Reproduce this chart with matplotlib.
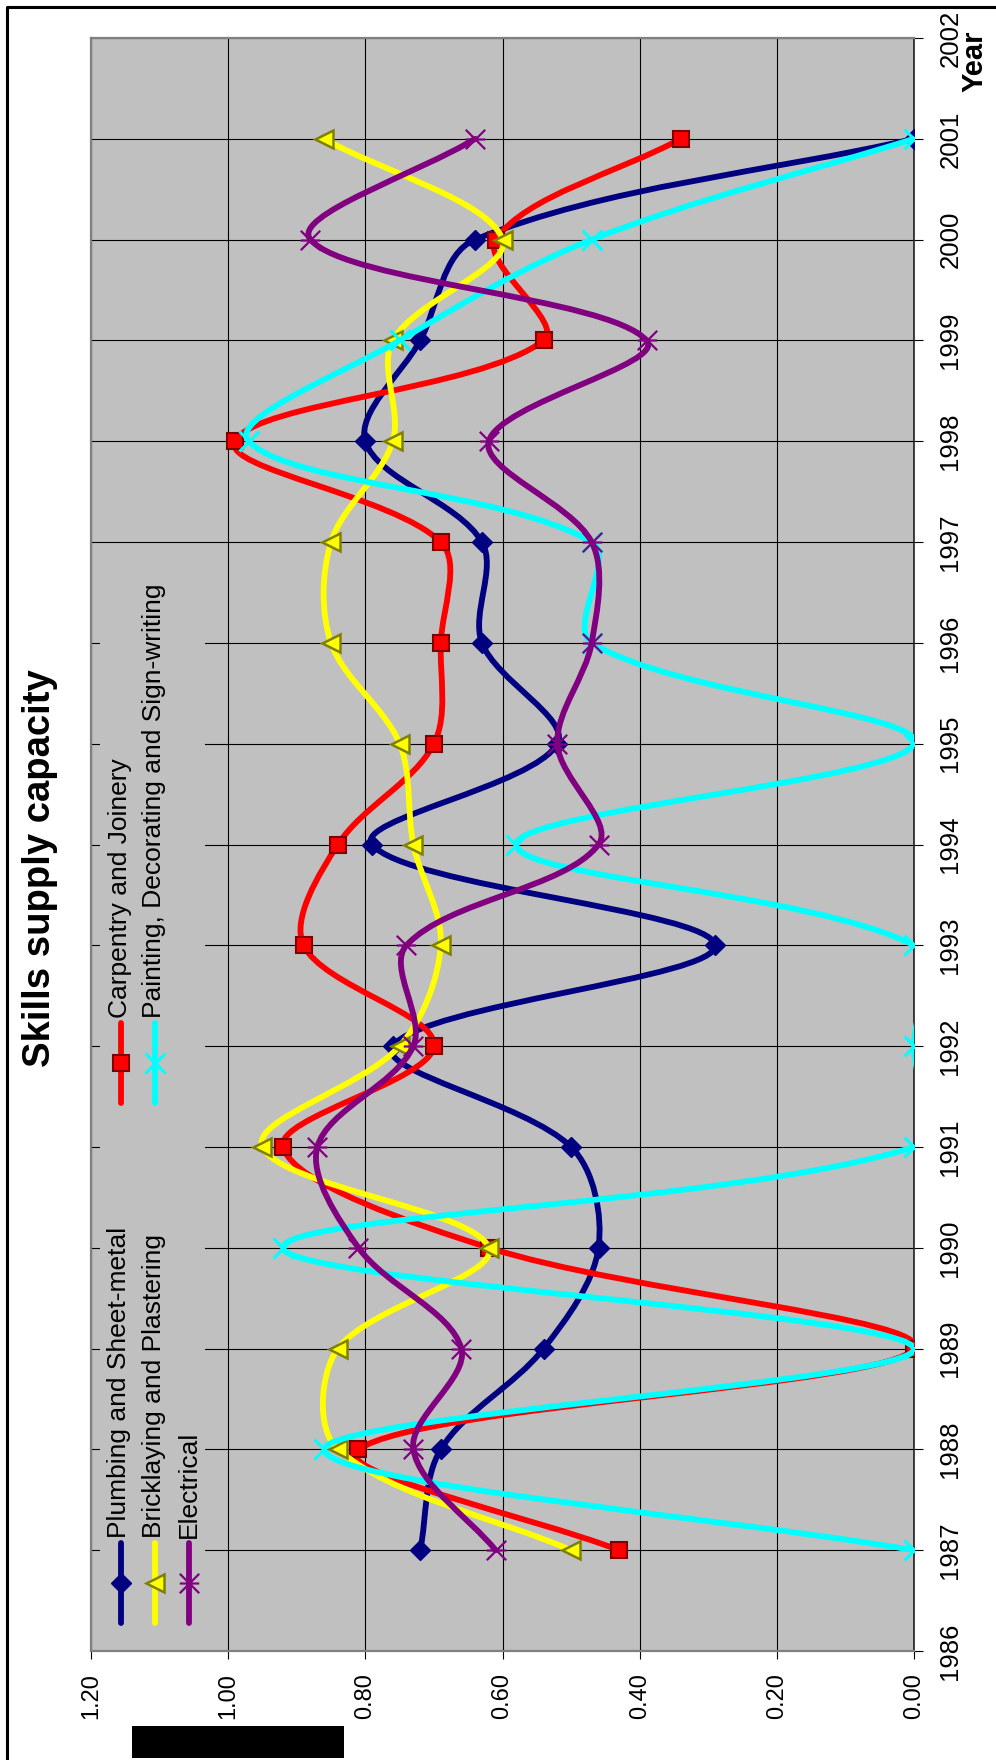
import numpy as np
import matplotlib
matplotlib.use("Agg")
import matplotlib.pyplot as plt
from matplotlib.path import Path
from matplotlib.patches import PathPatch, Rectangle
from matplotlib.lines import Line2D
from matplotlib import font_manager

plt.rcParams['font.family'] = ['Liberation Sans', 'DejaVu Sans']

years = list(range(1987, 2002))
plumbing    = [0.72, 0.69, 0.54, 0.46, 0.50, 0.76, 0.29, 0.79, 0.52, 0.63, 0.63, 0.80, 0.72, 0.64, 0.00]
carpentry   = [0.43, 0.81, 0.00, 0.62, 0.92, 0.70, 0.89, 0.84, 0.70, 0.69, 0.69, 0.99, 0.54, 0.61, 0.34]
bricklaying = [0.50, 0.84, 0.84, 0.62, 0.95, 0.75, 0.69, 0.73, 0.75, 0.85, 0.85, 0.76, 0.76, 0.60, 0.86]
painting    = [0.00, 0.86, 0.00, 0.92, 0.00, 0.00, 0.00, 0.58, 0.00, 0.47, 0.47, 0.97, 0.75, 0.47, 0.00]
electrical  = [0.61, 0.73, 0.66, 0.81, 0.87, 0.73, 0.74, 0.46, 0.52, 0.47, 0.47, 0.62, 0.39, 0.88, 0.64]

names = ["Plumbing and Sheet-metal", "Carpentry and Joinery", "Bricklaying and Plastering",
         "Painting, Decorating and Sign-writing", "Electrical"]
value_ticks = [0.0, 0.2, 0.4, 0.6, 0.8, 1.0, 1.2]
year_ticks = list(range(1986, 2003))

W, H = 996, 1760
def fx(px):
    return px / W
def fy(py):
    return 1 - py / H

LW = 4.2

# asterisk marker: an X with a bar through it
star = Path([(-1, -1), (1, 1), (-1, 1), (1, -1), (-1, 0), (1, 0)],
            [Path.MOVETO, Path.LINETO, Path.MOVETO, Path.LINETO, Path.MOVETO, Path.LINETO])

# (values, line colour, marker, size, face, edge, edge width)
series = [
    (plumbing,    '#000080', 'D',  10, '#000080', '#000080', 1.0),
    (carpentry,   '#FF0000', 's',  11, '#FF0000', '#800000', 1.5),
    (bricklaying, '#FFFF00', '<',  13, '#FFFF00', '#808000', 1.8),
    (painting,    '#00FFFF', 'x',  14, 'none',    '#00FFFF', 2.2),
    (electrical,  '#800080', star, 14, 'none',    '#800080', 1.6),
]


def smooth(ax, xs, ys):
    # bezier through every point; tangents from the neighbours, weighted by
    # the on-screen segment lengths so short hops don't overshoot
    pts = ax.transData.transform(np.column_stack([xs, ys]).astype(float))
    n = len(pts)

    def seg(a, b):
        a = min(max(a, 0), n - 1)
        b = min(max(b, 0), n - 1)
        return np.hypot(*(pts[b] - pts[a]))

    verts = [pts[0]]
    codes = [Path.MOVETO]
    for i in range(n - 1):
        p0 = pts[max(i - 1, 0)]
        p1 = pts[i]
        p2 = pts[i + 1]
        p3 = pts[min(i + 2, n - 1)]
        d12 = seg(i, i + 1)
        d01 = seg(i - 1, i)
        d23 = seg(i + 1, i + 2)
        k1 = 2 * d12 / (d01 + d12) if d01 + d12 > 0 else 1
        k2 = 2 * d12 / (d12 + d23) if d12 + d23 > 0 else 1
        verts += [p1 + (p2 - p0) / 6 * k1, p2 - (p3 - p1) / 6 * k2, p2]
        codes += [Path.CURVE4] * 3
    verts = ax.transData.inverted().transform(np.array(verts))
    return Path(verts, codes)


fig = plt.figure(figsize=(9.96, 17.6), dpi=100)
ax = fig.add_axes([fx(91), fy(1651), (914 - 91) / W, (1651 - 38) / H])
ax.set_facecolor('#C0C0C0')
ax.set_xlim(1.2, 0)
ax.set_ylim(1986, 2002)

for i, (vals, col, mk, ms, face, edge, mew) in enumerate(series):
    ax.add_patch(PathPatch(smooth(ax, vals, years), fill=False, edgecolor=col, lw=LW,
                           capstyle='round', joinstyle='round', zorder=3 + i))
    ax.plot(vals, years, ls='none', marker=mk, ms=ms, mfc=face, mec=edge, mew=mew, zorder=3 + i)

ax.set_xlim(1.2, 0)
ax.set_ylim(1986, 2002)
ax.set_xticks(value_ticks)
ax.set_xticklabels(["%.2f" % v for v in value_ticks])
ax.set_yticks(year_ticks)
ax.set_yticklabels([str(y) for y in year_ticks])
ax.yaxis.tick_right()
ax.grid(True, color='black', lw=0.8, zorder=1)
ax.set_axisbelow(True)

for side in ['left', 'top', 'bottom']:
    ax.spines[side].set_color('#808080')
    ax.spines[side].set_linewidth(1.6)
ax.spines['right'].set_color('#202020')
ax.spines['right'].set_linewidth(1.2)

fams = {f.name for f in font_manager.fontManager.ttflist}
if 'Liberation Sans Narrow' in fams:
    tick_font, x_size, y_size = 'Liberation Sans Narrow', 21, 21
else:
    tick_font, x_size, y_size = 'Liberation Sans', 17, 18.5

ax.tick_params(axis='x', direction='out', length=6, width=0.8, pad=10, labelrotation=90)
ax.tick_params(axis='y', direction='out', length=6.5, width=0.8, pad=11, labelrotation=90)
for lbl in ax.get_xticklabels():
    lbl.set_fontfamily(tick_font)
    lbl.set_fontsize(x_size)
for lbl in ax.get_yticklabels():
    lbl.set_fontfamily(tick_font)
    lbl.set_fontsize(y_size)
    lbl.set_va('center')

# legend, laid out by hand so the text can run upwards
fig.add_artist(Rectangle((fx(100), fy(1635)), fx(205) - fx(100), fy(575) - fy(1635),
                         transform=fig.transFigure, facecolor='#C0C0C0', edgecolor='none', zorder=1))
legend_slots = [
    (0, 121, 1543, 1623, 126, 1538),
    (1, 121, 1023, 1103, 127, 1018),
    (2, 155, 1543, 1623, 161, 1538),
    (3, 155, 1023, 1103, 161, 1018),
    (4, 189, 1543, 1623, 196, 1538),
]
for k, lx, y0, y1, tx, ty in legend_slots:
    vals, col, mk, ms, face, edge, mew = series[k]
    fig.add_artist(Line2D([fx(lx), fx(lx)], [fy(y0), fy(y1)], transform=fig.transFigure,
                          color=col, lw=LW, solid_capstyle='round', zorder=2))
    fig.add_artist(Line2D([fx(lx)], [fy((y0 + y1) / 2)], transform=fig.transFigure, ls='none',
                          marker=mk, ms=ms, mfc=face, mec=edge, mew=mew, zorder=3))
    fig.text(fx(tx), fy(ty), names[k], rotation=90, rotation_mode='anchor',
             ha='left', va='baseline', fontsize=19, zorder=3)

fig.text(fx(40), fy(868), "Skills supply capacity", rotation=90, fontsize=27.5,
         fontweight='bold', ha='center', va='center')
fig.text(fx(975), fy(61), "Year", rotation=90, fontsize=21, fontweight='bold',
         ha='center', va='center')

# outer chart frame and the blacked-out axis title
fig.add_artist(Line2D([fx(7), fx(7), fx(996)], [fy(1760), fy(7), fy(7)],
                      transform=fig.transFigure, color='black', lw=2.2))
fig.add_artist(Rectangle((fx(132), fy(1758)), fx(344) - fx(132), fy(1726) - fy(1758),
                         transform=fig.transFigure, facecolor='black', edgecolor='none'))

fig.savefig("out.png", dpi=100)
